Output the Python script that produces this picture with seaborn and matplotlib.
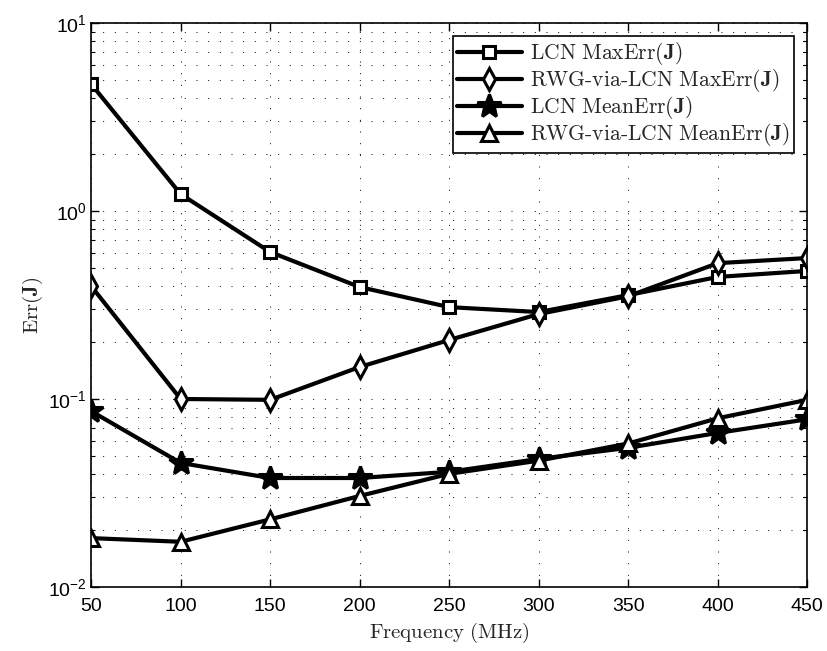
import numpy as np
import pandas as pd
import matplotlib
matplotlib.use("Agg")
import matplotlib.pyplot as plt
import seaborn as sns
from matplotlib.ticker import LogLocator, FixedLocator, NullFormatter

freq = [50, 100, 150, 200, 250, 300, 350, 400, 450]
lcn_max = [4.74, 1.23, 0.605, 0.394, 0.308, 0.290, 0.357, 0.446, 0.48]
rwg_max = [0.399, 0.100, 0.099, 0.148, 0.206, 0.283, 0.352, 0.528, 0.562]
lcn_mean = [0.0862, 0.0457, 0.038, 0.038, 0.041, 0.048, 0.055, 0.066, 0.078]
rwg_mean = [0.0182, 0.0174, 0.0229, 0.0305, 0.040, 0.047, 0.058, 0.079, 0.099]

labels = [r"$\mathrm{LCN\ MaxErr}(\mathbf{J})$",
          r"$\mathrm{RWG\text{-}via\text{-}LCN\ MaxErr}(\mathbf{J})$",
          r"$\mathrm{LCN\ MeanErr}(\mathbf{J})$",
          r"$\mathrm{RWG\text{-}via\text{-}LCN\ MeanErr}(\mathbf{J})$"]
series = [lcn_max, rwg_max, lcn_mean, rwg_mean]
markers = ["s", "d", "*", "^"]
msizes = [9, 11, 18, 11.5]
mfaces = ["white", "white", "black", "white"]

sns.set_theme(style="white")
plt.rcParams["font.family"] = ["Liberation Sans", "DejaVu Sans"]
plt.rcParams["mathtext.fontset"] = "cm"

fig = plt.figure(figsize=(8.28, 6.51), dpi=100)
ax = fig.add_axes([0.110, 0.0983, 0.865, 0.8664])

for vals, lab, mk, ms, mf in zip(series, labels, markers, msizes, mfaces):
    df = pd.DataFrame({"f": freq, "err": vals})
    sns.lineplot(data=df, x="f", y="err", ax=ax, color="black", lw=3,
                 marker=mk, markersize=ms, markerfacecolor=mf,
                 markeredgecolor="black", markeredgewidth=2.2, label=lab)

ax.set_yscale("log")
ax.set_xlim(50, 450)
ax.set_ylim(1e-2, 1e1)
ax.xaxis.set_major_locator(FixedLocator(freq))
ax.yaxis.set_major_locator(LogLocator(base=10, numticks=10))
ax.yaxis.set_minor_locator(LogLocator(base=10, subs=np.arange(2, 10), numticks=20))
ax.yaxis.set_minor_formatter(NullFormatter())

dots = (0, (1, 11))
ax.grid(True, which="major", axis="both", linestyle=dots, color="black", lw=0.7)
ax.grid(True, which="minor", axis="y", linestyle=dots, color="black", lw=0.7)

ax.tick_params(which="both", direction="in", top=True, right=True,
               bottom=True, left=True, colors="black", labelsize=14)
ax.tick_params(which="major", length=6, width=1)
ax.tick_params(which="minor", length=3, width=0.8)
ax.tick_params(axis="x", which="major", pad=8)
ax.tick_params(axis="y", which="major", pad=3)
for s in ax.spines.values():
    s.set_color("black")
    s.set_linewidth(1.2)

ax.set_xlabel(r"$\mathrm{Frequency\ (MHz)}$", fontsize=15, labelpad=4)
ax.set_ylabel(r"$\mathrm{Err}(\mathbf{J})$", fontsize=15, labelpad=2)

leg = ax.legend(loc="upper right", fontsize=15.5, frameon=True, fancybox=False,
                edgecolor="black", framealpha=1, borderpad=0.2, labelspacing=0.0,
                handlelength=3.0, handletextpad=0.4, borderaxespad=0.6)
leg.get_frame().set_linewidth(1.2)

fig.savefig("out.png", dpi=100)
